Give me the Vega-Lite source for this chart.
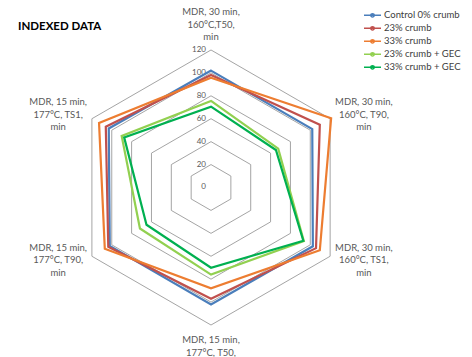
{
  "$schema": "https://vega.github.io/schema/vega-lite/v6.json",
  "width": 472,
  "height": 357,
  "autosize": {"type": "none"},
  "padding": 0,
  "background": "white",
  "config": {"view": {"stroke": null}, "font": "Lato"},
  "title": {
    "text": "INDEXED DATA",
    "anchor": "start",
    "orient": "top",
    "frame": "group",
    "offset": -32,
    "dx": 18,
    "fontSize": 11.5,
    "fontWeight": "bold",
    "font": "Lato",
    "color": "#000000"
  },
  "datasets": {
    "scores": [
      {"series": "Control 0% crumb", "idx": 0, "value": 102},
      {"series": "Control 0% crumb", "idx": 1, "value": 102},
      {"series": "Control 0% crumb", "idx": 2, "value": 102.6},
      {"series": "Control 0% crumb", "idx": 3, "value": 102},
      {"series": "Control 0% crumb", "idx": 4, "value": 102},
      {"series": "Control 0% crumb", "idx": 5, "value": 103},
      {"series": "23% crumb", "idx": 0, "value": 98.2},
      {"series": "23% crumb", "idx": 1, "value": 109.6},
      {"series": "23% crumb", "idx": 2, "value": 105.8},
      {"series": "23% crumb", "idx": 3, "value": 97},
      {"series": "23% crumb", "idx": 4, "value": 103.5},
      {"series": "23% crumb", "idx": 5, "value": 106},
      {"series": "33% crumb", "idx": 0, "value": 95.8},
      {"series": "33% crumb", "idx": 1, "value": 121},
      {"series": "33% crumb", "idx": 2, "value": 109.6},
      {"series": "33% crumb", "idx": 3, "value": 88},
      {"series": "33% crumb", "idx": 4, "value": 107},
      {"series": "33% crumb", "idx": 5, "value": 112.8},
      {"series": "23% crumb + GEC", "idx": 0, "value": 75.5},
      {"series": "23% crumb + GEC", "idx": 1, "value": 67.7},
      {"series": "23% crumb + GEC", "idx": 2, "value": 93.5},
      {"series": "23% crumb + GEC", "idx": 3, "value": 76},
      {"series": "23% crumb + GEC", "idx": 4, "value": 71.6},
      {"series": "23% crumb + GEC", "idx": 5, "value": 90},
      {"series": "33% crumb + GEC", "idx": 0, "value": 70.5},
      {"series": "33% crumb + GEC", "idx": 1, "value": 65.4},
      {"series": "33% crumb + GEC", "idx": 2, "value": 93},
      {"series": "33% crumb + GEC", "idx": 3, "value": 70},
      {"series": "33% crumb + GEC", "idx": 4, "value": 65},
      {"series": "33% crumb + GEC", "idx": 5, "value": 87.5}
    ],
    "axes": [
      {"idx": 0, "label": ["MDR, 30 min,", "160°C,T50,", "min"], "levels": [20, 40, 60, 80, 100, 120]},
      {"idx": 1, "label": ["MDR, 30 min,", "160°C, T90,", "min"], "levels": [20, 40, 60, 80, 100, 120]},
      {"idx": 2, "label": ["MDR, 30 min,", "160°C, TS1,", "min"], "levels": [20, 40, 60, 80, 100, 120]},
      {"idx": 3, "label": ["MDR, 15 min,", "177°C, T50,", "min"], "levels": [20, 40, 60, 80, 100, 120]},
      {"idx": 4, "label": ["MDR, 15 min,", "177°C, T90,", "min"], "levels": [20, 40, 60, 80, 100, 120]},
      {"idx": 5, "label": ["MDR, 15 min,", "177°C, TS1,", "min"], "levels": [20, 40, 60, 80, 100, 120]}
    ],
    "ticks": [
      {"tick": 0}, {"tick": 20}, {"tick": 40}, {"tick": 60}, {"tick": 80}, {"tick": 100}, {"tick": 120}
    ]
  },
  "encoding": {
    "x": {"field": "px", "type": "quantitative", "scale": {"domain": [-184.1, 227.7], "nice": false, "zero": false}, "axis": null},
    "y": {"field": "py", "type": "quantitative", "scale": {"domain": [-147.9, 163.6], "nice": false, "zero": false}, "axis": null}
  },
  "layer": [
    {
      "data": {"name": "axes"},
      "transform": [
        {"flatten": ["levels"], "as": ["level"]},
        {"calculate": "datum.idx * PI / 3", "as": "a"},
        {"calculate": "datum.level * sin(datum.a)", "as": "px"},
        {"calculate": "datum.level * cos(datum.a)", "as": "py"}
      ],
      "mark": {"type": "line", "interpolate": "linear-closed", "stroke": "#9a9a9a", "strokeWidth": 0.9},
      "encoding": {
        "detail": {"field": "level", "type": "nominal"},
        "order": {"field": "idx", "type": "quantitative"}
      }
    },
    {
      "data": {"name": "ticks"},
      "transform": [
        {"calculate": "0", "as": "px"},
        {"calculate": "datum.tick", "as": "py"}
      ],
      "mark": {"type": "text", "align": "right", "baseline": "middle", "dx": -5, "fontSize": 8, "color": "#595959", "font": "Lato"},
      "encoding": {"text": {"field": "tick", "type": "quantitative"}}
    },
    {
      "data": {"name": "scores"},
      "transform": [
        {"calculate": "datum.idx * PI / 3", "as": "a"},
        {"calculate": "datum.value * sin(datum.a)", "as": "px"},
        {"calculate": "datum.value * cos(datum.a)", "as": "py"}
      ],
      "mark": {"type": "line", "interpolate": "linear-closed", "strokeWidth": 2.2},
      "encoding": {
        "order": {"field": "idx", "type": "quantitative"},
        "color": {
          "field": "series",
          "type": "nominal",
          "sort": null,
          "scale": {
            "domain": ["Control 0% crumb", "23% crumb", "33% crumb", "23% crumb + GEC", "33% crumb + GEC"],
            "range": ["#4A7EBB", "#C0504D", "#ED7D31", "#92D050", "#00B050"]
          },
          "legend": {
            "title": null,
            "orient": "none",
            "legendX": 363,
            "legendY": 9,
            "symbolType": "M-1,0L1,0M0.2,0A0.2,0.2,0,1,1,-0.2,0A0.2,0.2,0,1,1,0.2,0Z",
            "symbolSize": 289,
            "symbolStrokeWidth": 1.5,
            "labelFont": "Lato",
            "labelFontSize": 9.5,
            "labelColor": "#404040",
            "labelOffset": 2,
            "clipHeight": 12.7,
            "rowPadding": 0,
            "padding": 0
          }
        }
      }
    },
    {
      "data": {"name": "axes"},
      "transform": [
        {"calculate": "datum.idx * PI / 3", "as": "a"},
        {"calculate": "154 * sin(datum.a)", "as": "px"},
        {"calculate": "(datum.idx == 0 ? 142 : datum.idx == 3 ? 144.4 : 126.6) * cos(datum.a)", "as": "py"}
      ],
      "mark": {"type": "text", "align": "center", "baseline": "middle", "dy": -12.5, "fontSize": 9.5, "lineHeight": 12.5, "color": "#595959", "font": "Lato"},
      "encoding": {"text": {"field": "label"}}
    }
  ]
}
